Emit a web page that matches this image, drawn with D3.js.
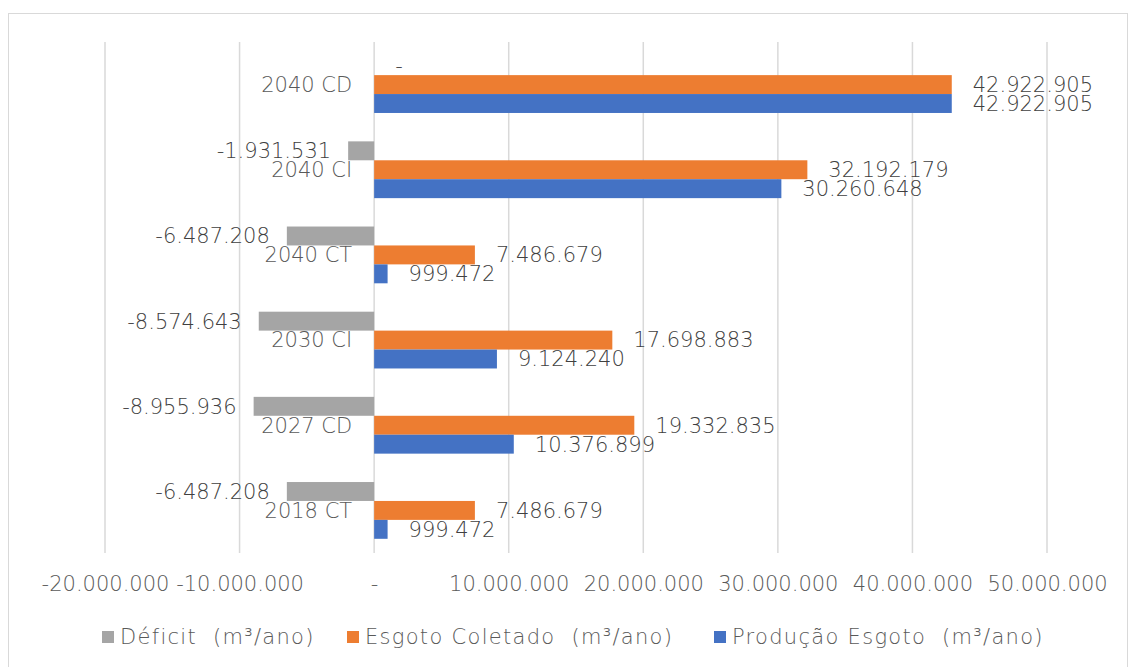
<!DOCTYPE html>
<html>
<head>
<meta charset="utf-8">
<script src="https://cdn.jsdelivr.net/npm/d3@7"></script>
<style>
  html, body { margin: 0; padding: 0; background: #fff; }
  svg { display: block; font-family: "DejaVu Sans", "Liberation Sans", sans-serif; }
  .pre { white-space: pre; }
</style>
</head>
<body>
<svg id="chart" width="1132" height="667"></svg>
<script>
// Categories, listed top to bottom as they appear on the vertical axis
const categories = ["2040 CD", "2040 CI", "2040 CT", "2030 CI", "2027 CD", "2018 CT"];

// Series values (m³/ano), one per category in the same order
const deficit   = [0, -1931531, -6487208, -8574643, -8955936, -6487208];
const coletado  = [42922905, 32192179, 7486679, 17698883, 19332835, 7486679];
const producao  = [42922905, 30260648, 999472, 9124240, 10376899, 999472];

// Horizontal axis ticks
const xTicks = [-20000000, -10000000, 0, 10000000, 20000000, 30000000, 40000000, 50000000];

const seriesNames = ["Déficit  (m³/ano)", "Esgoto Coletado  (m³/ano)", "Produção Esgoto  (m³/ano)"];
const seriesColors = ["#a5a5a5", "#ed7d31", "#4472c4"];
const seriesValues = [deficit, coletado, producao];

const svg = d3.select("#chart");

// Outer chart frame
svg.append("rect")
  .attr("x", 8.5).attr("y", 13.5)
  .attr("width", 1119).attr("height", 700)
  .attr("fill", "#fff").attr("stroke", "#d9d9d9").attr("stroke-width", 1);

const plot = { left: 105, right: 1047, top: 42, bottom: 553 };

const x = d3.scaleLinear()
  .domain([xTicks[0], xTicks[xTicks.length - 1]])
  .range([plot.left, plot.right]);

const y = d3.scaleBand()
  .domain(categories)
  .range([plot.top, plot.bottom])
  .padding(0);

// Bars inside each band: 3 bars with a gap of 150% of a bar width
const gapRatio = 1.5;
const barH = y.bandwidth() / (3 + gapRatio);
const groupOffset = barH * gapRatio / 2;

const locale = d3.formatLocale({ decimal: ",", thousands: ".", grouping: [3], currency: ["", ""], minus: "-" });
const fmtNum = locale.format(",.0f");
const fmt = v => v === 0 ? "-" : fmtNum(v);

const textWeight = 300;

// Vertical gridlines
svg.append("g")
  .selectAll("line")
  .data(xTicks)
  .join("line")
  .attr("x1", d => x(d)).attr("x2", d => x(d))
  .attr("y1", plot.top).attr("y2", plot.bottom)
  .attr("stroke", "#d9d9d9").attr("stroke-width", 1.5);

// Bottom axis labels
const xAxis = d3.axisBottom(x).tickValues(xTicks).tickSize(0).tickPadding(0).tickFormat(fmt);
const gx = svg.append("g").attr("transform", `translate(0,${plot.bottom})`).call(xAxis);
gx.select(".domain").remove();
gx.selectAll("text")
  .attr("y", 30.5).attr("dy", "0.35em")
  .attr("font-size", 21).attr("font-family", "DejaVu Sans")
  .attr("font-weight", textWeight)
  .attr("fill", "#595959");

// Category labels, right-aligned next to the zero line
svg.append("g")
  .selectAll("text")
  .data(categories)
  .join("text")
  .attr("x", x(0) - 22)
  .attr("y", d => y(d) + y.bandwidth() / 2)
  .attr("dy", "0.35em")
  .attr("text-anchor", "end")
  .attr("font-size", 21)
  .attr("font-weight", textWeight)
  .attr("fill", "#595959")
  .text(d => d);

// Bars and value labels for each series
seriesValues.forEach((vals, si) => {
  const g = svg.append("g");
  const rows = categories.map((c, i) => ({ c, v: vals[i] }));
  g.selectAll("rect")
    .data(rows)
    .join("rect")
    .attr("x", d => x(Math.min(0, d.v)))
    .attr("y", d => y(d.c) + groupOffset + si * barH)
    .attr("width", d => Math.abs(x(d.v) - x(0)))
    .attr("height", barH)
    .attr("fill", seriesColors[si]);

  g.selectAll("text")
    .data(rows)
    .join("text")
    .attr("x", d => d.v < 0 ? x(d.v) - 17 : x(d.v) + 21)
    .attr("y", d => y(d.c) + groupOffset + si * barH + barH / 2)
    .attr("dy", "0.35em")
    .attr("text-anchor", d => d.v < 0 ? "end" : "start")
    .attr("font-size", 21)
    .attr("font-weight", textWeight)
    .attr("fill", "#404040")
    .text(d => fmt(d.v));
});

// Legend
const legendX = [102, 347, 714];
const legend = svg.append("g");
seriesNames.forEach((name, i) => {
  legend.append("rect")
    .attr("x", legendX[i]).attr("y", 631)
    .attr("width", 12).attr("height", 12)
    .attr("fill", seriesColors[i]);
  legend.append("text")
    .attr("class", "pre")
    .attr("x", legendX[i] + 18).attr("y", 637)
    .attr("dy", "0.35em")
    .attr("font-size", 21)
    .attr("font-weight", textWeight)
    .attr("letter-spacing", 1.3)
    .attr("fill", "#595959")
    .text(name);
});
</script>
</body>
</html>
